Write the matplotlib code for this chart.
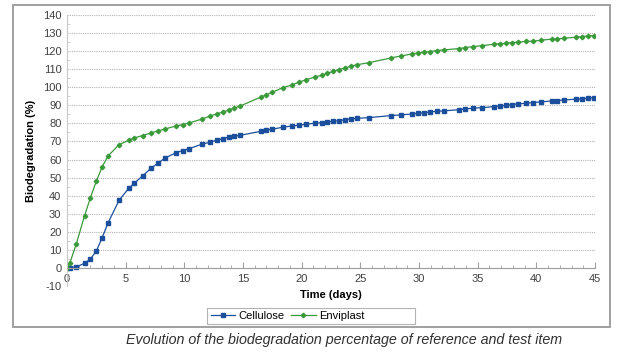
import matplotlib
matplotlib.use("Agg")
import matplotlib.pyplot as plt
from matplotlib.patches import Rectangle
from matplotlib.lines import Line2D
from matplotlib.ticker import MultipleLocator

plt.rcParams['font.family'] = ['Liberation Sans', 'DejaVu Sans']
plt.rcParams['axes.unicode_minus'] = False

# sampling days (shared by both series)
days = [0, 0.25, 0.8, 1.5, 2.0, 2.5, 3.0, 3.5, 4.45, 5.25, 5.75, 6.45, 7.2, 7.75,
        8.35, 9.3, 9.85, 10.4, 11.5, 12.2, 12.75, 13.3, 13.8, 14.25, 14.75, 16.5,
        17.0, 17.5, 18.4, 19.2, 19.75, 20.4, 21.1, 21.7, 22.2, 22.7, 23.2, 23.7,
        24.2, 24.75, 25.75, 27.6, 28.45, 29.4, 29.95, 30.45, 30.95, 31.5, 32.1,
        33.4, 33.95, 34.6, 35.4, 36.4, 36.9, 37.4, 37.9, 38.4, 39.1, 39.7, 40.4,
        41.3, 41.75, 42.4, 43.4, 43.9, 44.4, 44.9]

cellulose = [0, 0.2, 0.7, 2.6, 5.0, 9.4, 16.8, 25.0, 37.6, 44.0, 47.0, 51.0, 55.4,
             58.0, 60.8, 63.8, 65.0, 66.0, 68.5, 69.6, 70.7, 71.6, 72.5, 73.0, 73.4,
             75.6, 76.4, 76.8, 77.9, 78.6, 79.0, 79.5, 80.1, 80.4, 80.8, 81.2, 81.5,
             82.1, 82.5, 82.8, 83.2, 84.3, 84.7, 85.2, 85.6, 86.0, 86.3, 86.7, 86.9,
             87.6, 88.0, 88.4, 88.7, 89.3, 89.6, 90.0, 90.4, 90.8, 91.1, 91.5, 91.9,
             92.4, 92.6, 93.0, 93.4, 93.6, 94.0, 94.3]

enviplast = [0, 2.9, 13.5, 29.0, 39.0, 48.0, 56.0, 62.0, 68.3, 70.6, 72.0, 73.3,
             74.8, 75.8, 76.9, 78.6, 79.3, 80.2, 82.4, 84.1, 85.2, 86.3, 87.4, 88.5,
             89.6, 94.5, 95.9, 97.2, 99.8, 101.3, 102.8, 104.2, 105.6, 106.6, 107.7,
             108.8, 109.8, 110.7, 111.6, 112.5, 113.6, 116.2, 117.3, 118.4, 119.0,
             119.4, 119.7, 120.3, 120.6, 121.4, 121.9, 122.5, 123.0, 123.8, 124.1,
             124.3, 124.7, 124.9, 125.3, 125.5, 126.0, 126.6, 126.7, 127.1, 127.7,
             128.0, 128.4, 128.5]

blue = '#1b4f9c'
green = '#3a9a3a'
txt = '#404040'

fig = plt.figure(figsize=(6.22, 3.55), dpi=100)

# outer chart frame
fig.patches.append(Rectangle((0.021, 0.079), 0.96, 0.907, transform=fig.transFigure,
                             fill=False, edgecolor='#a0a0a0', linewidth=1.4))

ax = fig.add_axes([0.1077, 0.194, 0.8489, 0.764])
ax.plot(days, cellulose, color=blue, lw=0.9, marker='s', ms=3.4, label='Cellulose')
ax.plot(days, enviplast, color=green, lw=0.9, marker='D', ms=2.3, label='Enviplast')

ax.set_xlim(0, 45)
ax.set_ylim(-10, 140)
ax.xaxis.set_major_locator(MultipleLocator(5))
ax.xaxis.set_minor_locator(MultipleLocator(1))
ax.yaxis.set_major_locator(MultipleLocator(10))
ax.yaxis.set_minor_locator(MultipleLocator(5))

ax.grid(axis='y', which='major', color='#b5b5b5', linestyle=(0, (1, 1)), lw=0.8)
ax.set_axisbelow(True)

for s in ['top', 'right']:
    ax.spines[s].set_visible(False)
ax.spines['bottom'].set_position(('data', 0))
ax.spines['bottom'].set_color('#a0a0a0')
ax.spines['left'].set_color('#c8c8c8')

ax.tick_params(axis='x', which='both', direction='in', colors='#a0a0a0',
               labelcolor=txt, labelsize=8, pad=4)
ax.tick_params(axis='x', which='major', length=4)
ax.tick_params(axis='x', which='minor', length=2.5)
ax.tick_params(axis='y', which='both', direction='in', colors='#c8c8c8',
               labelcolor=txt, labelsize=8, pad=4)
ax.tick_params(axis='y', which='major', length=0)
ax.tick_params(axis='y', which='minor', length=2.5)

ax.set_xlabel('Time (days)', fontsize=8, fontweight='bold', color='black', va='center')
ax.xaxis.set_label_coords(0.5, -0.033)
ax.set_ylabel('Biodegradation (%)', fontsize=8, fontweight='bold', color='black', va='center')
ax.yaxis.set_label_coords(-0.068, 0.5)

handles, labels = ax.get_legend_handles_labels()
handles.append(Line2D([], [], color='none'))
labels.append(' ' * 4)
leg = fig.legend(handles, labels, loc='center', bbox_to_anchor=(311 / 622, 1 - 316 / 355),
                 ncol=3, fontsize=8, frameon=True, fancybox=False, edgecolor='#a0a0a0',
                 handlelength=2.2, columnspacing=0.6, handletextpad=0.3,
                 borderpad=0.3)
leg.get_frame().set_linewidth(0.8)

fig.text(344 / 622, 1 - 340 / 355,
         'Evolution of the biodegradation percentage of reference and test item',
         ha='center', va='center', fontsize=10.3, style='italic', color='#303030')

fig.savefig('out.png', dpi=100)
